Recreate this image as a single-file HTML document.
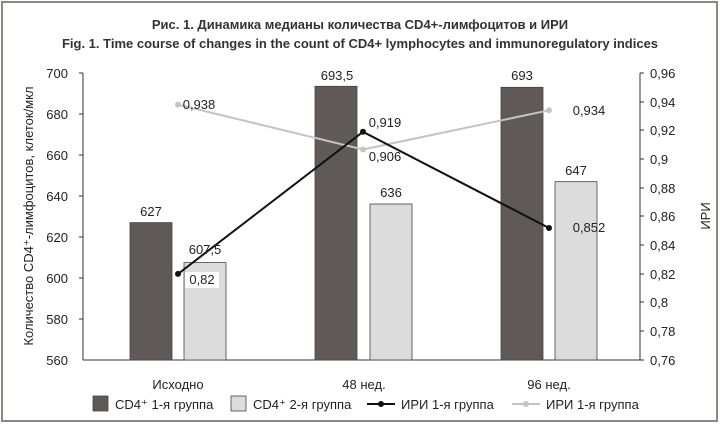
<!DOCTYPE html>
<html><head><meta charset="utf-8"><style>
body{margin:0;background:#fff;}
svg{display:block;font-family:"Liberation Sans","DejaVu Sans",sans-serif;}
</style></head><body>
<svg width="720" height="425" viewBox="0 0 720 425">
<rect x="2" y="2" width="715" height="419" fill="#fff" stroke="#8a8a80" stroke-width="2"/>
<text x="360" y="29" text-anchor="middle" font-size="13" font-weight="bold" fill="#333">Рис. 1. Динамика медианы количества CD4+-лимфоцитов и ИРИ</text>
<text x="360" y="48" text-anchor="middle" font-size="13" font-weight="bold" fill="#333">Fig. 1. Time course of changes in the count of CD4+ lymphocytes and immunoregulatory indices</text>
<g font-size="13" fill="#222">
<g text-anchor="end">
<text x="68" y="78">700</text><text x="68" y="119">680</text><text x="68" y="160">660</text><text x="68" y="201">640</text><text x="68" y="242">620</text><text x="68" y="283">600</text><text x="68" y="324">580</text><text x="68" y="365">560</text>
</g>
<g>
<text x="650" y="78">0,96</text><text x="650" y="107">0,94</text><text x="650" y="135">0,92</text><text x="650" y="164">0,9</text><text x="650" y="193">0,88</text><text x="650" y="221">0,86</text><text x="650" y="250">0,84</text><text x="650" y="279">0,82</text><text x="650" y="307">0,8</text><text x="650" y="336">0,78</text><text x="650" y="365">0,76</text>
</g>
</g>
<g stroke="#333" stroke-width="1">
<line x1="83" y1="73" x2="83" y2="360"/><line x1="640" y1="73" x2="640" y2="360"/><line x1="83" y1="360" x2="640" y2="360"/>
<line x1="79" y1="73" x2="83" y2="73"/><line x1="79" y1="114" x2="83" y2="114"/><line x1="79" y1="155" x2="83" y2="155"/><line x1="79" y1="196" x2="83" y2="196"/><line x1="79" y1="237" x2="83" y2="237"/><line x1="79" y1="278" x2="83" y2="278"/><line x1="79" y1="319" x2="83" y2="319"/>
<line x1="640" y1="73" x2="644" y2="73"/><line x1="640" y1="102" x2="644" y2="102"/><line x1="640" y1="130" x2="644" y2="130"/><line x1="640" y1="159" x2="644" y2="159"/><line x1="640" y1="188" x2="644" y2="188"/><line x1="640" y1="216" x2="644" y2="216"/><line x1="640" y1="245" x2="644" y2="245"/><line x1="640" y1="274" x2="644" y2="274"/><line x1="640" y1="302" x2="644" y2="302"/><line x1="640" y1="331" x2="644" y2="331"/><line x1="640" y1="360" x2="644" y2="360"/>
</g>
<text transform="translate(33,216) rotate(-90)" text-anchor="middle" font-size="13" fill="#222">Количество CD4⁺-лимфоцитов, клеток/мкл</text>
<text transform="translate(710,216) rotate(-90)" text-anchor="middle" font-size="13" fill="#222">ИРИ</text>
<g stroke="#444" stroke-width="0.8">
<rect x="130" y="222.6" width="42" height="137.4" fill="#5f5a57"/>
<rect x="184" y="262.6" width="42" height="97.4" fill="#dcdcdc"/>
<rect x="315" y="86.3" width="42" height="273.7" fill="#5f5a57"/>
<rect x="370" y="204" width="42" height="156" fill="#dcdcdc"/>
<rect x="501" y="87.3" width="42" height="272.7" fill="#5f5a57"/>
<rect x="555" y="181.7" width="42" height="178.3" fill="#dcdcdc"/>
</g>
<polyline points="178,104.6 363,149.5 549,110.3" fill="none" stroke="#c4c4c4" stroke-width="2"/>
<g fill="#c4c4c4"><circle cx="178" cy="104.6" r="3"/><circle cx="363" cy="149.5" r="3"/><circle cx="549" cy="110.3" r="3"/></g>
<polyline points="178,273.9 363,131.8 549,228" fill="none" stroke="#111" stroke-width="2"/>
<g fill="#111"><circle cx="178" cy="273.9" r="3"/><circle cx="363" cy="131.8" r="3"/><circle cx="549" cy="228" r="3"/></g>
<g font-size="13" fill="#222" text-anchor="middle">
<text x="151" y="216">627</text><text x="205" y="254">607,5</text>
<text x="337" y="80">693,5</text><text x="391" y="197">636</text>
<text x="522" y="80">693</text><text x="576" y="175">647</text>
<rect x="185" y="272" width="34" height="16" fill="#fff"/>
<text x="202" y="284">0,82</text>
<rect x="366" y="115" width="38" height="16" fill="#fff"/>
<text x="385" y="127">0,919</text>
<text x="385" y="161">0,906</text>
<text x="589" y="232">0,852</text>
<text x="199" y="109">0,938</text>
<text x="589" y="115">0,934</text>
<text x="178" y="389">Исходно</text>
<text x="364" y="389">48 нед.</text>
<text x="549" y="389">96 нед.</text>
</g>
<g font-size="13" fill="#222">
<rect x="93" y="396" width="15" height="15" fill="#5f5a57" stroke="#444" stroke-width="0.8"/>
<text x="115" y="409">CD4⁺ 1-я группа</text>
<rect x="231" y="396" width="15" height="15" fill="#dcdcdc" stroke="#444" stroke-width="0.8"/>
<text x="253" y="409">CD4⁺ 2-я группа</text>
<line x1="367" y1="404" x2="395" y2="404" stroke="#111" stroke-width="2"/><circle cx="381" cy="404" r="3" fill="#111"/>
<text x="401" y="409">ИРИ 1-я группа</text>
<line x1="512" y1="404" x2="540" y2="404" stroke="#c4c4c4" stroke-width="2"/><circle cx="526" cy="404" r="3" fill="#c4c4c4"/>
<text x="546" y="409">ИРИ 1-я группа</text>
</g>
</svg>
</body></html>
